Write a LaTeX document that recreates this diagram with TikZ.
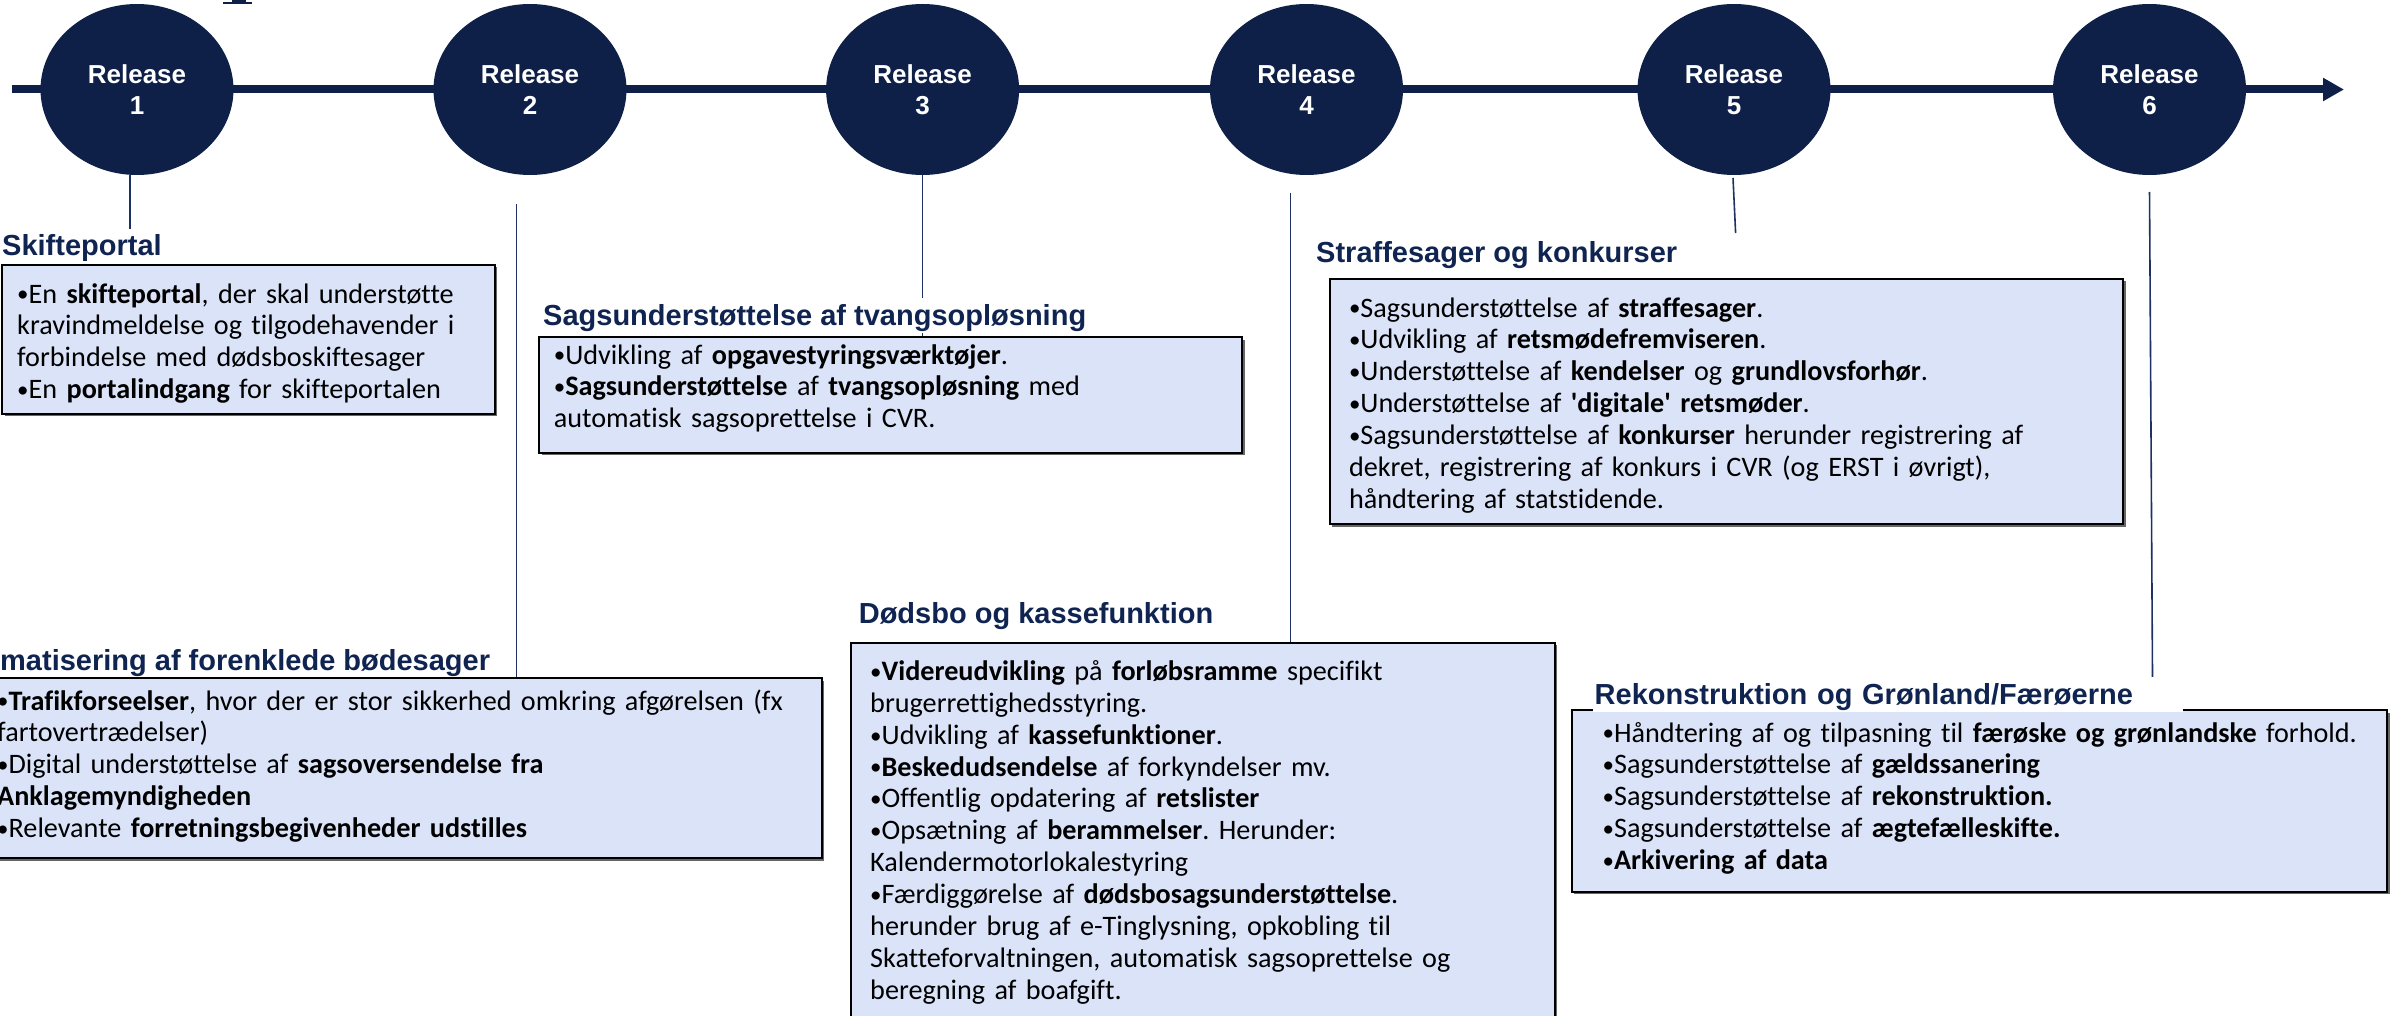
\documentclass[tikz,border=0pt]{standalone}
\usepackage{fontspec}
\setmainfont{Carlito}[Ligatures=NoCommon]
\newfontfamily\headfont{Liberation Sans}
\usetikzlibrary{shapes.geometric,arrows.meta,shadows}
\definecolor{navy}{RGB}{14,32,72}
\definecolor{titlenavy}{RGB}{16,36,82}
\definecolor{boxfill}{RGB}{218,227,248}
\definecolor{linenavy}{RGB}{31,48,100}
\newcommand{\bul}{\raisebox{1.2pt}{\fontsize{23}{23}\selectfont•}}
\frenchspacing
\begin{document}
\frenchspacing
\begin{tikzpicture}[x=1pt,y=-1pt,
  release/.style={ellipse, fill=navy, minimum width=193pt, minimum height=171pt, inner sep=0pt,
    text=white, font=\headfont\bfseries\fontsize{26}{31}\selectfont, align=center},
  conn/.style={draw=linenavy, line width=1.6pt},
  titlelbl/.style={fill=white, inner xsep=2pt, inner ysep=1pt, text height=26pt, text depth=7pt,
    anchor=base west, text=titlenavy, font=\headfont\bfseries\fontsize{29}{33}\selectfont},
  infobox/.style={fill=boxfill, draw=black, line width=2pt, anchor=north west, inner sep=0pt,
    drop shadow={shadow xshift=2.5pt, shadow yshift=-2.5pt, fill=black!60, opacity=1}},
  bodytext/.style={anchor=base west, inner sep=0pt, align=left, font=\fontsize{28.2}{31.85}\selectfont\frenchspacing}
]
\useasboundingbox (0,0) rectangle (2392,1016);
\fill[white] (0,0) rectangle (2392,1016);
\clip (0,0) rectangle (2392,1016);

% fragment of cut-off heading at the top
\fill[navy] (223,1.7) rectangle (252,4.3);
\fill[navy] (232,0) rectangle (246,1.8);

% timeline
\coordinate (tlstart) at (11.5,89.5);
\coordinate (tlend) at (2344,89.5);
\draw[navy, line width=8pt, -{Triangle[length=21pt,width=22pt]}] (tlstart) -- (tlend);

% releases
\node[release] (r1) at (137,89.5) {Release\\1};
\node[release] (r2) at (530,89.5) {Release\\2};
\node[release] (r3) at (922.6,89.5) {Release\\3};
\node[release] (r4) at (1306.5,89.5) {Release\\4};
\node[release] (r5) at (1734,89.5) {Release\\5};
\node[release] (r6) at (2149.5,89.5) {Release\\6};

% connector end points
\coordinate (k1a) at (130,175);    \coordinate (k1b) at (130,229);
\coordinate (k2a) at (516.6,204);  \coordinate (k2b) at (516.6,678);
\coordinate (k3a) at (922.6,175);  \coordinate (k3b) at (922.6,337);
\coordinate (k4a) at (1290.6,193); \coordinate (k4b) at (1290.6,642);
\coordinate (k5a) at (1733,178);   \coordinate (k5b) at (1735.6,233);
\coordinate (k6a) at (2149.5,192); \coordinate (k6b) at (2152.5,677);
\draw[conn] (k1a) -- (k1b);
\draw[conn] (k2a) -- (k2b);
\draw[conn] (k3a) -- (k3b);
\draw[conn] (k4a) -- (k4b);
\draw[conn] (k5a) -- (k5b);
\draw[conn] (k6a) -- (k6b);

% titles (white background)
\node[titlelbl, text depth=5pt] (t1) at (0,256) {Skifteportal};
\node[titlelbl] (t3) at (541,325) {Sagsunderstøttelse af tvangsopløsning};
\node[titlelbl] (t5) at (1314,262.7) {Straffesager og konkurser};
\node[titlelbl, fill=none] (t2) at (-2,670) {matisering af forenklede bødesager};
\node[titlelbl] (t4) at (856.6,623) {Dødsbo og kassefunktion};

% boxes
\node[infobox, minimum width=492.7pt, minimum height=148.7pt] (b1) at (1,264) {};
\node[infobox, minimum width=703pt, minimum height=115.7pt] (b3) at (538,336) {};
\node[infobox, minimum width=793.3pt, minimum height=245.3pt] (b5) at (1328.7,277.7) {};
\node[infobox, minimum width=825.5pt, minimum height=180pt] (b2) at (-5,677) {};
\node[infobox, minimum width=704pt, minimum height=400pt] (b4) at (849.5,641.7) {};
\node[infobox, minimum width=815.4pt, minimum height=181.7pt] (b6) at (1570.6,709) {};

% title over box border
\node[titlelbl, text width=586pt, align=left] (t6) at (1592.5,704) {Rekonstruktion og Grønland/Færøerne};

% box texts
\node[bodytext, text width=480pt] (x1) at (17,303) {%
\bul En \textbf{skifteportal}, der skal understøtte\\
kravindmeldelse og tilgodehavender i\\
forbindelse med dødsboskiftesager\\
\bul En \textbf{portalindgang} for skifteportalen};

\node[bodytext, text width=680pt] (x3) at (553.6,364) {%
\bul Udvikling af \textbf{opgavestyringsværktøjer}.\\
\bul\textbf{Sagsunderstøttelse} af \textbf{tvangsopløsning} med\\
automatisk sagsoprettelse i CVR.};

\node[bodytext, text width=770pt] (x5) at (1348.8,317) {%
\bul Sagsunderstøttelse af \textbf{straffesager}.\\
\bul Udvikling af \textbf{retsmødefremviseren}.\\
\bul Understøttelse af \textbf{kendelser} og \textbf{grundlovsforhør}.\\
\bul Understøttelse af \textbf{\textquotesingle digitale\textquotesingle} \textbf{retsmøder}.\\
\bul Sagsunderstøttelse af \textbf{konkurser} herunder registrering af\\
dekret, registrering af konkurs i CVR (og ERST i øvrigt),\\
håndtering af statstidende.};

\node[bodytext, text width=815pt] (x2) at (-3,710) {%
\bul\textbf{Trafikforseelser}, hvor der er stor sikkerhed omkring afgørelsen (fx\\
fartovertrædelser)\\
\bul Digital understøttelse af \textbf{sagsoversendelse fra}\\
\textbf{Anklagemyndigheden}\\
\bul Relevante \textbf{forretningsbegivenheder udstilles}};

\node[bodytext, text width=680pt] (x4) at (870,680.5) {%
\bul\textbf{Videreudvikling} på \textbf{forløbsramme} specifikt\\
brugerrettighedsstyring.\\
\bul Udvikling af \textbf{kassefunktioner}.\\
\bul\textbf{Beskedudsendelse} af forkyndelser mv.\\
\bul Offentlig opdatering af \textbf{retslister}\\
\bul Opsætning af \textbf{berammelser}. Herunder:\\
Kalendermotorlokalestyring\\
\bul Færdiggørelse af \textbf{dødsbosagsunderstøttelse}.\\
herunder brug af e-Tinglysning, opkobling til\\
Skatteforvaltningen, automatisk sagsoprettelse og\\
beregning af boafgift.};

\node[bodytext, text width=790pt] (x6) at (1602.4,742) {%
\bul Håndtering af og tilpasning til \textbf{færøske og grønlandske} forhold.\\
\bul Sagsunderstøttelse af \textbf{gældssanering}\\
\bul Sagsunderstøttelse af \textbf{rekonstruktion.}\\
\bul Sagsunderstøttelse af \textbf{ægtefælleskifte.}\\
\bul\textbf{Arkivering af data}};
\end{tikzpicture}
\end{document}
